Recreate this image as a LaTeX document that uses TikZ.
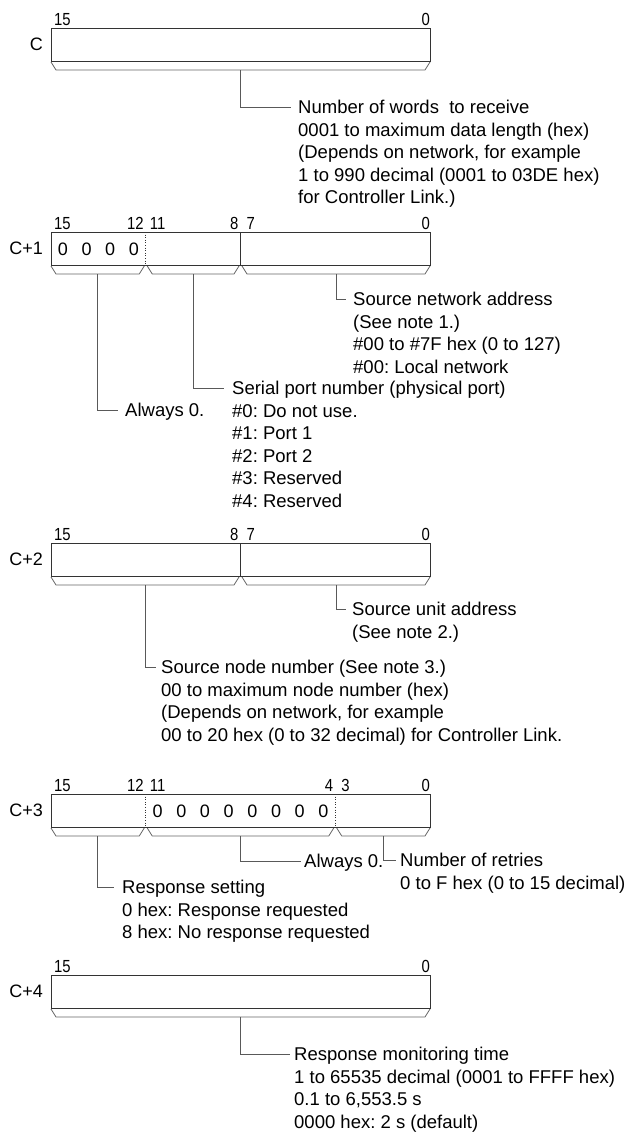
\documentclass[tikz,border=0pt]{standalone}
\usepackage{fontspec}
\setmainfont{Liberation Sans}
\newfontfamily\bitfont[FakeStretch=0.85]{Liberation Sans}
\usetikzlibrary{calc}
\frenchspacing
\newcommand\bracketseg[4]{%
  \draw[brk] (#1,#3+1) -- (#1+5,#3+9) -- (#2-5,#3+9) -- (#2,#3+1);
  \coordinate (#4) at ({(#1+#2)/2},#3+9);
}
\begin{document}
\frenchspacing
\begin{tikzpicture}[x=1pt,y=-1pt,
  wordbox/.style={draw=black!80, line width=1.4pt, fill=white, inner sep=0pt,
    minimum width=379pt, minimum height=33pt, anchor=north west},
  div/.style={draw=black!80, line width=1pt},
  dotdiv/.style={draw=black!80, line width=0.9pt, dash pattern=on 1pt off 1.6pt},
  brk/.style={draw=black!60, line width=0.8pt},
  conn/.style={draw=black!65, line width=1pt},
  desc/.style={anchor=north west, inner sep=0pt, align=left,
    font=\fontsize{18.5}{22.5}\selectfont\frenchspacing},
  bitlbl/.style={inner sep=0pt, font=\bitfont\fontsize{17.5}{17.5}\selectfont},
  rowlbl/.style={anchor=east, inner sep=0pt, font=\fontsize{18}{18}\selectfont},
  zero/.style={inner sep=0pt, font=\fontsize{18}{18}\selectfont}]
\useasboundingbox (0,0) rectangle (626,1133);
\def\L{51}\def\R{430}\def\W{23.6875}

% ---------- C ----------
\node[wordbox] (wC) at (\L,28) {};
\node[rowlbl] (rC) at (43,44.5) {C};
\node[bitlbl,anchor=base west] (c15) at (\L+3,25.5) {15};
\node[bitlbl,anchor=base east] (c0) at (\R,25.5) {0};
\bracketseg{51}{430}{61}{bC}
\node[desc] (tC) at (298,100.3) {Number of words\ \ to receive\\0001 to maximum data length (hex)\\(Depends on network, for example\\1 to 990 decimal (0001 to 03DE hex)\\for Controller Link.)};
\draw[conn] (bC) |- ([shift={(-7,6.7)}]tC.north west);

% ---------- C+1 ----------
\node[wordbox] (w1) at (\L,232) {};
\node[rowlbl] (r1) at (43,248.5) {C+1};
\draw[dotdiv] (\L+4*\W,232) -- (\L+4*\W,265);
\draw[div] (\L+8*\W,232) -- (\L+8*\W,265);
\foreach \i in {0,...,3} \node[zero] (z1-\i) at (\L+\W*\i+\W/2,249) {0};
\node[bitlbl,anchor=base west] (a15) at (\L+3,229.5) {15};
\node[bitlbl,anchor=base east] (a12) at (\L+4*\W-2,229.5) {12};
\node[bitlbl,anchor=base west] (a11) at (\L+4*\W+4,229.5) {11};
\node[bitlbl,anchor=base east] (a8) at (\L+8*\W-2,229.5) {8};
\node[bitlbl,anchor=base west] (a7) at (\L+8*\W+6,229.5) {7};
\node[bitlbl,anchor=base east] (a0) at (\R,229.5) {0};
\bracketseg{51}{144.25}{265}{b1a}
\bracketseg{147.25}{239}{265}{b1b}
\bracketseg{242}{430}{265}{b1c}
\node[desc] (t1c) at (353,292.3) {Source network address\\(See note 1.)\\\#00 to \#7F hex (0 to 127)\\\#00: Local network};
\node[desc] (t1b) at (232,381.3) {Serial port number (physical port)\\\#0: Do not use.\\\#1: Port 1\\\#2: Port 2\\\#3: Reserved\\\#4: Reserved};
\node[desc] (t1a) at (125,403.3) {Always 0.};
\draw[conn] (b1c) |- ([shift={(-7,6.7)}]t1c.north west);
\draw[conn] (b1b) |- ([shift={(-8,6.7)}]t1b.north west);
\draw[conn] (b1a) |- ([shift={(-7,6.7)}]t1a.north west);

% ---------- C+2 ----------
\node[wordbox] (w2) at (\L,543) {};
\node[rowlbl] (r2) at (43,559.5) {C+2};
\draw[div] (\L+8*\W,543) -- (\L+8*\W,576);
\node[bitlbl,anchor=base west] (d15) at (\L+3,540.5) {15};
\node[bitlbl,anchor=base east] (d8) at (\L+8*\W-2,540.5) {8};
\node[bitlbl,anchor=base west] (d7) at (\L+8*\W+6,540.5) {7};
\node[bitlbl,anchor=base east] (d0) at (\R,540.5) {0};
\bracketseg{51}{239}{576}{b2a}
\bracketseg{242}{430}{576}{b2b}
\node[desc] (t2b) at (352,602.3) {Source unit address\\(See note 2.)};
\node[desc] (t2a) at (161,660.3) {Source node number (See note 3.)\\00 to maximum node number (hex)\\(Depends on network, for example\\00 to 20 hex (0 to 32 decimal) for Controller Link.};
\draw[conn] (b2b) |- ([shift={(-6,6.7)}]t2b.north west);
\draw[conn] (b2a) |- ([shift={(-5,6.7)}]t2a.north west);

% ---------- C+3 ----------
\node[wordbox] (w3) at (\L,794) {};
\node[rowlbl] (r3) at (43,810.5) {C+3};
\draw[dotdiv] (\L+4*\W,794) -- (\L+4*\W,827);
\draw[dotdiv] (\L+12*\W,794) -- (\L+12*\W,827);
\foreach \i in {4,...,11} \node[zero] (z3-\i) at (\L+\W*\i+\W/2,811) {0};
\node[bitlbl,anchor=base west] (e15) at (\L+3,791.5) {15};
\node[bitlbl,anchor=base east] (e12) at (\L+4*\W-2,791.5) {12};
\node[bitlbl,anchor=base west] (e11) at (\L+4*\W+4,791.5) {11};
\node[bitlbl,anchor=base east] (e4) at (\L+12*\W-2,791.5) {4};
\node[bitlbl,anchor=base west] (e3) at (\L+12*\W+6,791.5) {3};
\node[bitlbl,anchor=base east] (e0) at (\R,791.5) {0};
\bracketseg{51}{144.25}{827}{b3a}
\bracketseg{147.25}{333.75}{827}{b3b}
\bracketseg{336.75}{430}{827}{b3c}
\node[desc] (t3b) at (304,854.3) {Always 0.};
\node[desc] (t3c) at (400,853.3) {Number of retries\\0 to F hex (0 to 15 decimal)};
\node[desc] (t3a) at (122,880.3) {Response setting\\0 hex: Response requested\\8 hex: No response requested};
\draw[conn] (b3b) |- ([shift={(-3,6.7)}]t3b.north west);
\draw[conn] (b3c) |- ([shift={(-4,6.7)}]t3c.north west);
\draw[conn] (b3a) |- ([shift={(-8,6.7)}]t3a.north west);

% ---------- C+4 ----------
\node[wordbox] (w4) at (\L,975) {};
\node[rowlbl] (r4) at (43,991.5) {C+4};
\node[bitlbl,anchor=base west] (f15) at (\L+3,972.5) {15};
\node[bitlbl,anchor=base east] (f0) at (\R,972.5) {0};
\bracketseg{51}{430}{1008}{b4}
\node[desc] (t4) at (294,1047.3) {Response monitoring time\\1 to 65535 decimal (0001 to FFFF hex)\\0.1 to 6,553.5 s\\0000 hex: 2 s (default)};
\draw[conn] (b4) |- ([shift={(-4,6.7)}]t4.north west);
\end{tikzpicture}
\end{document}
